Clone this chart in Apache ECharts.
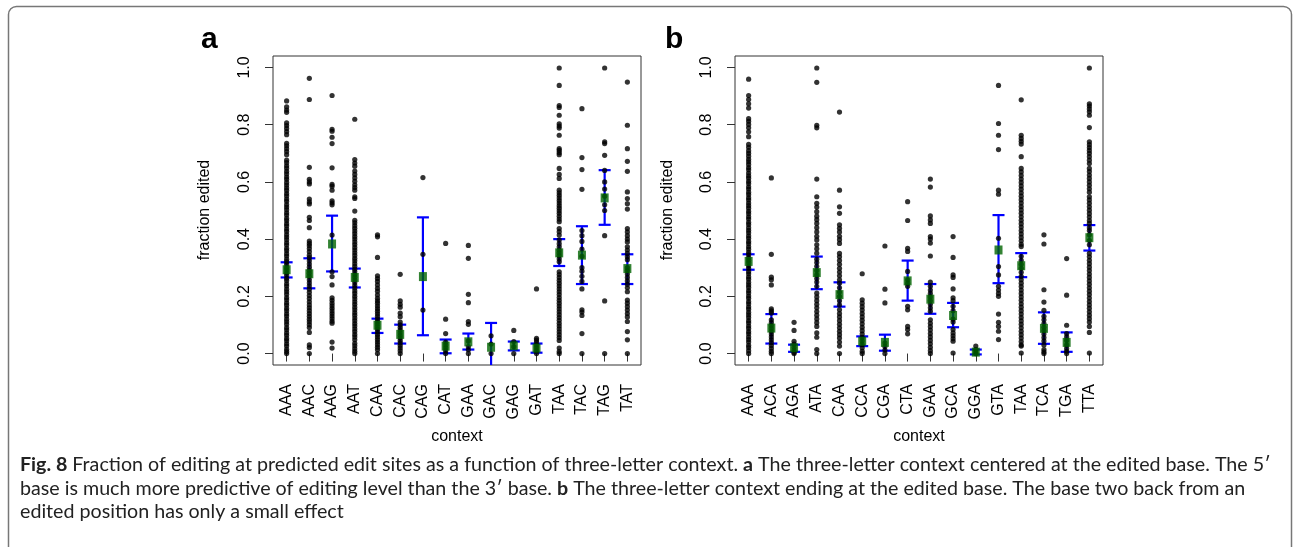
<!DOCTYPE html>
<html>
<head>
<meta charset="utf-8">
<script src="https://cdn.jsdelivr.net/npm/echarts@6/dist/echarts.min.js"></script>
<style>
  html, body { margin: 0; padding: 0; background: #fff; }
  #main { width: 1294px; height: 547px; }
</style>
</head>
<body>
<div id="main"></div>
<script>
// ---- panel a : three-letter context centered at the edited base ----
const catsA = ['AAA', 'AAC', 'AAG', 'AAT', 'CAA', 'CAC', 'CAG', 'CAT',
  'GAA', 'GAC', 'GAG', 'GAT', 'TAA', 'TAC', 'TAG', 'TAT'];
const meanA = [0.293, 0.279, 0.383, 0.266, 0.099, 0.067, 0.269, 0.026,
  0.041, 0.022, 0.027, 0.019, 0.352, 0.344, 0.544, 0.297];
const loA = [0.266, 0.228, 0.287, 0.231, 0.072, 0.035, 0.064, 0.001,
  0.014, -0.063, 0.011, 0.003, 0.306, 0.243, 0.450, 0.243];
const hiA = [0.319, 0.333, 0.482, 0.297, 0.122, 0.101, 0.476, 0.049,
  0.070, 0.107, 0.042, 0.035, 0.400, 0.445, 0.641, 0.347];
// edit sites per context (fraction edited)
const ptsA = [
  [0.883, 0.862, 0.851, 0.843, 0.806, 0.797, 0.787, 0.776, 0.765, 0.735, 0.726, 0.716, 0.706, 0.695,
   0.676, 0.667, 0.656, 0.648, 0.637, 0.628, 0.617, 0.609, 0.598, 0.589, 0.579, 0.570, 0.559, 0.551,
   0.540, 0.532, 0.521, 0.512, 0.503, 0.492, 0.484, 0.473, 0.465, 0.454, 0.446, 0.435, 0.427, 0.416,
   0.407, 0.398, 0.387, 0.379, 0.368, 0.360, 0.349, 0.341, 0.330, 0.321, 0.312, 0.301, 0.293, 0.282,
   0.274, 0.263, 0.255, 0.244, 0.236, 0.225, 0.216, 0.207, 0.196, 0.188, 0.177, 0.169, 0.158, 0.150,
   0.139, 0.131, 0.120, 0.111, 0.102, 0.091, 0.083, 0.072, 0.064, 0.053, 0.045, 0.034, 0.026, 0.015,
   0.007, 0.0],
  [0.962, 0.888, 0.651, 0.609, 0.600, 0.593, 0.540, 0.530, 0.523, 0.476, 0.465, 0.440, 0.393, 0.385,
   0.377, 0.367, 0.356, 0.344, 0.335, 0.324, 0.313, 0.302, 0.291, 0.281, 0.270, 0.258, 0.247, 0.236,
   0.225, 0.214, 0.203, 0.192, 0.181, 0.170, 0.160, 0.150, 0.140, 0.130, 0.120, 0.111, 0.101, 0.091,
   0.074, 0.030, 0.021, 0.0],
  [0.902, 0.784, 0.777, 0.756, 0.734, 0.649, 0.591, 0.585, 0.571, 0.534, 0.527, 0.520, 0.414, 0.286,
   0.269, 0.240, 0.195, 0.186, 0.176, 0.167, 0.158, 0.149, 0.140, 0.131, 0.122, 0.113, 0.106, 0.040,
   0.019],
  [0.819, 0.678, 0.666, 0.655, 0.638, 0.626, 0.614, 0.602, 0.590, 0.580, 0.571, 0.548, 0.542, 0.498,
   0.466, 0.457, 0.447, 0.438, 0.428, 0.419, 0.409, 0.400, 0.390, 0.381, 0.371, 0.362, 0.352, 0.343,
   0.333, 0.324, 0.314, 0.305, 0.295, 0.286, 0.276, 0.267, 0.257, 0.248, 0.238, 0.229, 0.219, 0.210,
   0.200, 0.191, 0.181, 0.172, 0.162, 0.153, 0.143, 0.134, 0.124, 0.115, 0.105, 0.096, 0.086, 0.077,
   0.067, 0.058, 0.048, 0.036, 0.027, 0.017, 0.008, 0.0],
  [0.415, 0.408, 0.336, 0.272, 0.262, 0.252, 0.240, 0.228, 0.218, 0.205, 0.193, 0.184, 0.176, 0.166,
   0.157, 0.148, 0.139, 0.130, 0.121, 0.112, 0.103, 0.094, 0.085, 0.076, 0.067, 0.058, 0.049, 0.040,
   0.031, 0.022, 0.013, 0.0],
  [0.277, 0.184, 0.172, 0.162, 0.141, 0.129, 0.110, 0.100, 0.091, 0.082, 0.073, 0.064, 0.055, 0.046,
   0.037, 0.028, 0.019, 0.010, 0.0],
  [0.615, 0.347, 0.152],
  [0.385, 0.120, 0.070, 0.040, 0.030, 0.020, 0.010, 0.0],
  [0.378, 0.333, 0.207, 0.178, 0.112, 0.102, 0.044, 0.024, 0.013, 0.0],
  [0.062, 0.033, 0.0],
  [0.081, 0.042, 0.024, 0.0],
  [0.226, 0.053, 0.047, 0.040, 0.030, 0.020, 0.010, 0.0],
  [0.998, 0.937, 0.867, 0.860, 0.833, 0.803, 0.795, 0.788, 0.763, 0.716, 0.710, 0.702, 0.695, 0.647,
   0.626, 0.612, 0.571, 0.562, 0.553, 0.544, 0.535, 0.526, 0.517, 0.508, 0.499, 0.490, 0.480, 0.470,
   0.461, 0.437, 0.426, 0.414, 0.397, 0.384, 0.373, 0.362, 0.352, 0.342, 0.331, 0.321, 0.286, 0.276,
   0.266, 0.256, 0.246, 0.236, 0.226, 0.216, 0.206, 0.196, 0.186, 0.176, 0.166, 0.156, 0.146, 0.136,
   0.126, 0.116, 0.106, 0.096, 0.086, 0.076, 0.066, 0.056, 0.046, 0.019, 0.007, 0.0],
  [0.856, 0.685, 0.643, 0.574, 0.430, 0.412, 0.392, 0.365, 0.340, 0.300, 0.288, 0.270, 0.252, 0.226,
   0.153, 0.145, 0.133, 0.070, 0.0],
  [0.998, 0.740, 0.734, 0.693, 0.640, 0.600, 0.575, 0.550, 0.520, 0.500, 0.412, 0.184, 0.0],
  [0.949, 0.798, 0.716, 0.672, 0.637, 0.565, 0.542, 0.524, 0.505, 0.437, 0.425, 0.412, 0.400, 0.390,
   0.373, 0.362, 0.350, 0.338, 0.328, 0.300, 0.290, 0.278, 0.266, 0.254, 0.242, 0.230, 0.216, 0.187,
   0.176, 0.164, 0.152, 0.140, 0.128, 0.112, 0.077, 0.048, 0.0]
];

// ---- panel b : three-letter context ending at the edited base ----
const catsB = ['AAA', 'ACA', 'AGA', 'ATA', 'CAA', 'CCA', 'CGA', 'CTA',
  'GAA', 'GCA', 'GGA', 'GTA', 'TAA', 'TCA', 'TGA', 'TTA'];
const meanB = [0.322, 0.089, 0.020, 0.283, 0.206, 0.043, 0.039, 0.254,
  0.190, 0.133, 0.005, 0.362, 0.307, 0.088, 0.039, 0.405];
const loB = [0.293, 0.035, 0.006, 0.225, 0.164, 0.026, 0.010, 0.185,
  0.139, 0.092, -0.003, 0.246, 0.267, 0.034, 0.006, 0.360];
const hiB = [0.347, 0.138, 0.031, 0.339, 0.249, 0.060, 0.066, 0.325,
  0.243, 0.177, 0.014, 0.484, 0.351, 0.144, 0.074, 0.449];
const ptsB = [
  [0.959, 0.902, 0.888, 0.873, 0.858, 0.821, 0.812, 0.801, 0.789, 0.775, 0.758, 0.731, 0.721, 0.709,
   0.700, 0.690, 0.679, 0.670, 0.661, 0.650, 0.642, 0.631, 0.621, 0.613, 0.602, 0.594, 0.583, 0.575,
   0.564, 0.556, 0.545, 0.537, 0.526, 0.517, 0.508, 0.497, 0.489, 0.478, 0.470, 0.459, 0.451, 0.440,
   0.431, 0.422, 0.411, 0.403, 0.392, 0.384, 0.373, 0.365, 0.354, 0.346, 0.335, 0.326, 0.317, 0.306,
   0.298, 0.287, 0.279, 0.268, 0.260, 0.249, 0.240, 0.231, 0.220, 0.212, 0.201, 0.193, 0.182, 0.174,
   0.163, 0.155, 0.144, 0.135, 0.126, 0.115, 0.107, 0.096, 0.088, 0.077, 0.069, 0.058, 0.049, 0.040,
   0.029, 0.021, 0.010, 0.0],
  [0.614, 0.347, 0.267, 0.258, 0.240, 0.156, 0.149, 0.142, 0.118, 0.108, 0.098, 0.088, 0.078, 0.068,
   0.058, 0.048, 0.038, 0.028, 0.018, 0.008, 0.0],
  [0.109, 0.081, 0.043, 0.033, 0.022, 0.012, 0.004, 0.0],
  [0.998, 0.948, 0.798, 0.789, 0.610, 0.548, 0.525, 0.512, 0.496, 0.480, 0.468, 0.455, 0.440, 0.425,
   0.410, 0.397, 0.380, 0.366, 0.351, 0.330, 0.318, 0.305, 0.290, 0.275, 0.262, 0.250, 0.235, 0.211,
   0.198, 0.185, 0.172, 0.160, 0.147, 0.134, 0.121, 0.108, 0.095, 0.072, 0.057, 0.014, 0.0],
  [0.844, 0.571, 0.513, 0.490, 0.450, 0.438, 0.425, 0.410, 0.398, 0.385, 0.350, 0.338, 0.325, 0.312,
   0.298, 0.285, 0.272, 0.258, 0.246, 0.230, 0.215, 0.200, 0.185, 0.170, 0.153, 0.140, 0.128, 0.115,
   0.102, 0.090, 0.078, 0.066, 0.054, 0.040, 0.026, 0.0],
  [0.279, 0.188, 0.176, 0.164, 0.152, 0.140, 0.128, 0.116, 0.104, 0.092, 0.080, 0.068, 0.056, 0.044,
   0.032, 0.020, 0.008, 0.0],
  [0.376, 0.225, 0.177, 0.037, 0.025, 0.012, 0.0],
  [0.531, 0.465, 0.368, 0.357, 0.287, 0.258, 0.246, 0.235, 0.165, 0.153, 0.095, 0.084, 0.069],
  [0.610, 0.582, 0.481, 0.467, 0.455, 0.409, 0.400, 0.386, 0.341, 0.250, 0.235, 0.222, 0.210, 0.198,
   0.185, 0.172, 0.160, 0.148, 0.118, 0.106, 0.094, 0.082, 0.070, 0.058, 0.046, 0.034, 0.022, 0.010,
   0.0],
  [0.409, 0.336, 0.275, 0.266, 0.226, 0.195, 0.185, 0.165, 0.150, 0.120, 0.110, 0.084, 0.072, 0.062,
   0.052, 0.043, 0.002],
  [0.026, 0.014, 0.006, 0.0],
  [0.937, 0.804, 0.763, 0.713, 0.571, 0.557, 0.403, 0.304, 0.275, 0.235, 0.222, 0.210, 0.200, 0.138,
   0.109, 0.095, 0.078, 0.049],
  [0.887, 0.763, 0.752, 0.742, 0.732, 0.688, 0.647, 0.635, 0.622, 0.610, 0.598, 0.586, 0.574, 0.562,
   0.550, 0.538, 0.526, 0.514, 0.502, 0.490, 0.478, 0.466, 0.454, 0.442, 0.430, 0.418, 0.406, 0.394,
   0.382, 0.374, 0.340, 0.326, 0.312, 0.298, 0.284, 0.270, 0.258, 0.246, 0.234, 0.222, 0.210, 0.198,
   0.186, 0.174, 0.162, 0.150, 0.138, 0.126, 0.114, 0.102, 0.090, 0.078, 0.066, 0.054, 0.042, 0.030,
   0.026, 0.002],
  [0.415, 0.383, 0.223, 0.180, 0.151, 0.130, 0.118, 0.105, 0.092, 0.080, 0.068, 0.056, 0.044, 0.030,
   0.014, 0.006, 0.0],
  [0.332, 0.204, 0.099, 0.070, 0.058, 0.046, 0.030, 0.018, 0.008, 0.0],
  [0.998, 0.873, 0.865, 0.855, 0.845, 0.833, 0.790, 0.740, 0.730, 0.720, 0.710, 0.700, 0.688, 0.676,
   0.664, 0.647, 0.636, 0.624, 0.612, 0.600, 0.588, 0.576, 0.564, 0.548, 0.537, 0.525, 0.513, 0.501,
   0.489, 0.477, 0.465, 0.455, 0.440, 0.430, 0.415, 0.395, 0.380, 0.350, 0.338, 0.326, 0.314, 0.302,
   0.290, 0.278, 0.266, 0.254, 0.242, 0.230, 0.218, 0.206, 0.194, 0.182, 0.170, 0.158, 0.146, 0.134,
   0.122, 0.110, 0.095, 0.074, 0.002]
];

const yTicks = [0, 0.2, 0.4, 0.6, 0.8, 1.0];
const xTicks = catsA.map((c, i) => i + 1);

const FONT = 'Liberation Sans';
const chart = echarts.init(document.getElementById('main'), null, { renderer: 'canvas' });

function xAxisFor(idx, cats) {
  return {
    gridIndex: idx, type: 'value', min: 0.4, max: 16.6,
    axisLine: { show: false }, splitLine: { show: false },
    axisTick: { show: true, length: 8, customValues: xTicks, lineStyle: { color: '#333', width: 1 } },
    axisLabel: {
      customValues: xTicks, rotate: 90, margin: 19, color: '#000',
      fontFamily: FONT, fontSize: 16,
      formatter: v => cats[Math.round(v) - 1]
    }
  };
}
function yAxisFor(idx) {
  return {
    gridIndex: idx, type: 'value', min: -0.04, max: 1.04,
    axisLine: { show: false }, splitLine: { show: false },
    axisTick: { show: true, length: 8, customValues: yTicks, lineStyle: { color: '#333', width: 1 } },
    axisLabel: {
      customValues: yTicks, rotate: 90, margin: 20, color: '#000',
      fontFamily: FONT, fontSize: 16,
      formatter: v => v.toFixed(1)
    }
  };
}

// error bar with caps, drawn in pixels from data coords
function errBar(params, api) {
  const x = api.value(0);
  const p1 = api.coord([x, api.value(1)]);
  const p2 = api.coord([x, api.value(2)]);
  const st = { stroke: '#0000ff', lineWidth: 2.2 };
  return {
    type: 'group',
    children: [
      { type: 'line', shape: { x1: p1[0], y1: p1[1], x2: p2[0], y2: p2[1] }, style: st },
      { type: 'line', shape: { x1: p1[0] - 6, y1: p1[1], x2: p1[0] + 6, y2: p1[1] }, style: st },
      { type: 'line', shape: { x1: p2[0] - 6, y1: p2[1], x2: p2[0] + 6, y2: p2[1] }, style: st }
    ]
  };
}

function panelSeries(idx, pts, mean, lo, hi) {
  const dots = [];
  pts.forEach((col, i) => col.forEach(v => dots.push([i + 1, v])));
  return [
    {
      type: 'scatter', xAxisIndex: idx, yAxisIndex: idx, data: dots,
      symbol: 'circle', symbolSize: 5.2, itemStyle: { color: '#000' }, silent: true
    },
    {
      type: 'scatter', xAxisIndex: idx, yAxisIndex: idx,
      data: mean.map((m, i) => [i + 1, m]),
      symbol: 'rect', symbolSize: [8, 9], itemStyle: { color: '#006400' }, silent: true
    },
    {
      type: 'custom', xAxisIndex: idx, yAxisIndex: idx, clip: true,
      data: mean.map((m, i) => [i + 1, lo[i], hi[i]]),
      encode: { x: 0, y: [1, 2] }, renderItem: errBar, silent: true
    }
  ];
}

// caption lines (rich text, bold parts in {b|...})
const capLines = [
  '{b|Fig. 8} Fraction of editing at predicted edit sites as a function of three-letter context. {b|a} The three-letter context centered at the edited base. The 5\u2032',
  'base is much more predictive of editing level than the 3\u2032 base. {b|b} The three-letter context ending at the edited base. The base two back from an',
  'edited position has only a small effect'
];
const CAP_FONT = 'Lato';

// fit caption size to the width of the first line
function capSize() {
  const ctx = document.createElement('canvas').getContext('2d');
  let w = 0;
  capLines[0].split(/(\{b\|[^}]*\})/).forEach(part => {
    const bold = part.startsWith('{b|');
    const t = bold ? part.slice(3, -1) : part;
    ctx.font = (bold ? 'bold ' : '') + '100px ' + CAP_FONT;
    w += ctx.measureText(t).width;
  });
  return 100 * 1252 / w;
}
const cs = capSize();

const graphics = [
  {
    type: 'rect', shape: { x: 8.5, y: 6.5, width: 1283, height: 580, r: 8 },
    style: { fill: 'none', stroke: '#777', lineWidth: 1.5 }, silent: true
  },
  { type: 'text', x: 201, y: 40, style: { text: 'a', font: 'bold 30px ' + FONT, fill: '#000', verticalAlign: 'middle' } },
  { type: 'text', x: 665, y: 40, style: { text: 'b', font: 'bold 30px ' + FONT, fill: '#000', verticalAlign: 'middle' } },
  { type: 'text', x: 205, y: 210, rotation: Math.PI / 2,
    style: { text: 'fraction edited', font: '16px ' + FONT, fill: '#000', align: 'center', verticalAlign: 'middle' } },
  { type: 'text', x: 668, y: 210, rotation: Math.PI / 2,
    style: { text: 'fraction edited', font: '16px ' + FONT, fill: '#000', align: 'center', verticalAlign: 'middle' } },
  { type: 'text', x: 457, y: 437,
    style: { text: 'context', font: '16px ' + FONT, fill: '#000', align: 'center', verticalAlign: 'middle' } },
  { type: 'text', x: 919, y: 437,
    style: { text: 'context', font: '16px ' + FONT, fill: '#000', align: 'center', verticalAlign: 'middle' } }
];
capLines.forEach((t, i) => {
  graphics.push({
    type: 'text', x: 20, y: 465 + i * 23.5,
    style: {
      text: t, fontFamily: CAP_FONT, fontSize: cs, fill: '#222', verticalAlign: 'middle',
      rich: { b: { fontFamily: CAP_FONT, fontSize: cs, fontWeight: 'bold', fill: '#222' } }
    }
  });
});

chart.setOption({
  animation: false,
  backgroundColor: '#fff',
  grid: [
    { left: 273, top: 56, width: 368, height: 309, show: true, borderColor: '#333', borderWidth: 1, backgroundColor: 'transparent' },
    { left: 735, top: 56, width: 368, height: 309, show: true, borderColor: '#333', borderWidth: 1, backgroundColor: 'transparent' }
  ],
  xAxis: [xAxisFor(0, catsA), xAxisFor(1, catsB)],
  yAxis: [yAxisFor(0), yAxisFor(1)],
  series: [].concat(
    panelSeries(0, ptsA, meanA, loA, hiA),
    panelSeries(1, ptsB, meanB, loB, hiB)
  ),
  graphic: graphics
});
</script>
</body>
</html>
